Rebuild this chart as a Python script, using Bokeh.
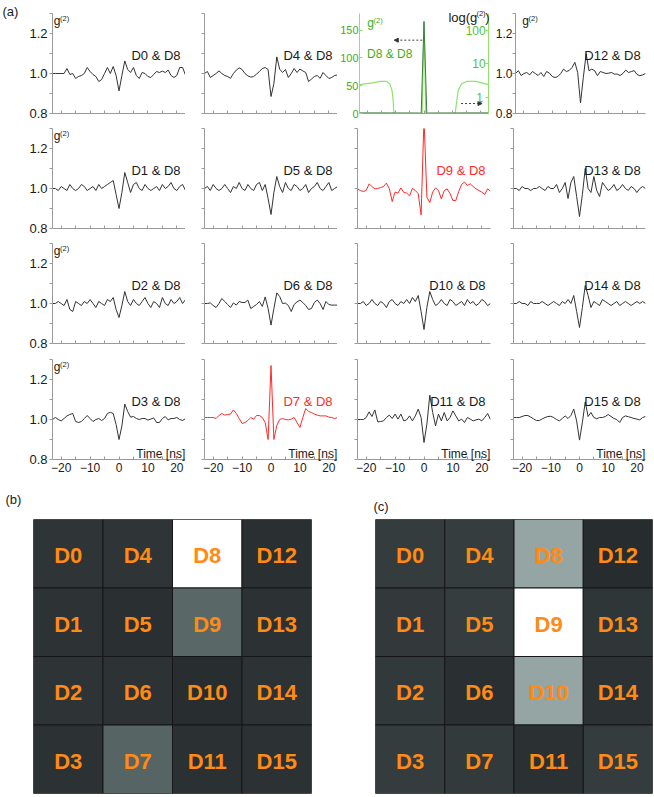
from bokeh.plotting import figure
from bokeh.layouts import column, row
from bokeh.models import (Range1d, LogAxis, LogScale, LogTicker, FixedTicker, Arrow,
                          NormalHead, CustomJSTickFormatter, NumeralTickFormatter)
from bokeh.core.properties import value
from bokeh.embed import file_html
from bokeh.resources import INLINE

FONT = "Liberation Sans"

# ---------------- data ----------------
time_ns = list(range(-23, 24))

D0 = [1.00, 1.00, 1.00, 1.00, 1.00, 1.025, 0.995, 1.00, 0.975, 0.985,
      0.99, 1.00, 1.03, 1.01, 0.995, 0.985, 0.96, 0.97, 1.00, 1.03,
      1.00, 1.035, 0.99, 0.913, 0.99, 1.063, 1.02, 1.005, 1.03, 0.99,
      0.975, 1.005, 1.00, 0.985, 0.98, 0.995, 1.01, 1.005, 1.012, 1.005,
      1.017, 0.99, 0.98, 0.99, 1.03, 1.03, 0.992]
D1 = [1.00, 1.00, 0.99, 1.01, 1.00, 0.99, 1.02, 1.00, 0.99, 1.00,
      1.02, 1.01, 0.99, 1.00, 1.01, 0.99, 1.02, 1.00, 1.01, 1.02,
      1.03, 1.04, 0.97, 0.90, 0.98, 1.08, 1.03, 0.98, 1.02, 1.03,
      1.00, 0.99, 1.02, 1.00, 0.99, 1.00, 1.01, 0.99, 1.02, 1.00,
      1.01, 1.03, 1.00, 0.99, 1.01, 1.02, 0.99]
D2 = [1.00, 1.00, 1.01, 1.00, 0.99, 1.02, 0.97, 0.96, 1.01, 1.00,
      0.99, 1.01, 1.00, 1.02, 1.00, 0.98, 1.01, 1.00, 0.99, 1.02,
      1.01, 1.03, 0.97, 0.93, 0.99, 1.06, 1.01, 0.99, 1.02, 1.00,
      0.99, 1.01, 1.03, 1.00, 0.98, 1.01, 1.00, 0.98, 1.03, 1.00,
      0.99, 1.02, 1.00, 1.01, 1.03, 1.00, 1.02]
D3 = [1.00, 1.01, 1.00, 0.993, 1.005, 1.018, 1.025, 1.03, 0.99, 0.985,
      0.99, 1.005, 1.02, 1.005, 0.99, 1.00, 1.005, 0.995, 1.005, 1.03,
      1.036, 1.03, 0.975, 0.90, 0.968, 1.077, 1.04, 1.012, 1.015, 1.005,
      1.00, 1.005, 1.005, 0.997, 1.002, 1.008, 0.985, 0.985, 1.005, 1.015,
      0.998, 1.005, 1.005, 1.01, 1.00, 0.995, 1.005]
D4 = [1.00, 1.01, 0.98, 0.99, 1.00, 1.013, 1.00, 0.99, 0.985, 0.976,
      1.00, 1.017, 1.028, 1.02, 1.00, 0.988, 0.982, 0.985, 0.997, 1.01,
      1.025, 1.03, 1.02, 0.885, 0.95, 1.083, 1.022, 1.005, 1.02, 0.98,
      1.00, 1.025, 1.005, 1.022, 1.013, 1.005, 0.96, 0.972, 0.985, 0.99,
      0.976, 1.005, 0.99, 0.975, 0.98, 0.99, 0.993]
D5 = [1.00, 1.01, 0.99, 1.02, 1.00, 0.99, 1.00, 1.02, 1.00, 0.98,
      1.01, 1.00, 1.03, 1.00, 0.99, 1.02, 1.00, 0.99, 1.02, 1.03,
      0.99, 1.02, 0.95, 0.87, 0.98, 1.06, 1.01, 0.98, 1.03, 1.00,
      0.99, 1.02, 1.01, 0.99, 1.00, 1.02, 0.98, 1.00, 1.01, 1.03,
      1.00, 0.99, 1.01, 1.03, 0.99, 1.00, 1.01]
D6 = [1.00, 1.00, 1.003, 0.99, 0.98, 1.00, 1.025, 1.01, 0.995, 0.98,
      1.003, 0.992, 1.01, 1.005, 1.005, 1.017, 0.975, 0.985, 0.995, 1.01,
      0.985, 1.033, 0.975, 0.892, 0.975, 1.053, 1.035, 1.00, 1.002, 0.99,
      0.96, 0.995, 1.008, 1.017, 1.005, 0.99, 0.97, 0.975, 1.005, 1.017,
      1.00, 0.97, 1.01, 0.995, 0.992, 0.992, 0.992]
D7 = [1.01, 1.01, 1.01, 1.01, 1.005, 1.02, 1.03, 1.022, 1.025, 1.027,
      1.048, 1.03, 1.005, 0.98, 0.985, 0.995, 1.01, 1.002, 1.02, 1.02,
      1.01, 0.985, 0.90, 1.27, 0.90, 0.97, 1.00, 1.005, 1.00, 0.998,
      1.002, 1.01, 0.985, 0.96, 1.01, 1.055, 1.04, 1.035, 1.027, 1.022,
      1.018, 1.018, 1.018, 1.012, 1.01, 1.005, 1.01]
D9 = [0.998, 0.99, 0.985, 0.99, 1.023, 1.01, 0.998, 1.00, 1.005, 1.01,
      1.027, 1.00, 0.935, 0.982, 0.977, 1.003, 0.98, 0.977, 0.963, 1.00,
      0.99, 0.975, 0.868, 1.35, 0.957, 0.93, 0.982, 1.003, 0.99, 0.948,
      0.99, 0.998, 0.975, 0.94, 0.94, 0.985, 1.02, 1.032, 1.015, 1.023,
      1.01, 0.998, 0.99, 0.982, 0.97, 0.998, 0.987]
D10 = [1.00, 1.00, 1.01, 0.99, 1.00, 1.02, 1.00, 0.99, 1.01, 1.00,
       0.98, 1.01, 1.02, 1.00, 0.99, 1.01, 1.00, 1.02, 1.00, 1.03,
       1.01, 1.04, 0.96, 0.87, 0.98, 1.06, 1.02, 0.99, 1.00, 1.02,
       1.00, 0.99, 1.02, 1.01, 0.99, 1.00, 1.01, 0.99, 1.02, 1.00,
       1.01, 0.99, 1.00, 1.02, 1.01, 0.99, 1.00]
D11 = [1.00, 1.00, 1.00, 1.01, 1.038, 1.015, 1.048, 0.988, 0.99, 0.993,
       1.01, 1.022, 1.005, 1.027, 1.002, 1.027, 0.993, 0.998, 1.018, 0.993,
       1.018, 1.052, 1.01, 0.885, 0.977, 1.122, 1.035, 0.968, 1.027, 0.993,
       1.035, 0.993, 1.01, 1.043, 1.018, 0.993, 1.002, 0.985, 1.01, 1.002,
       0.993, 0.998, 1.002, 0.993, 1.01, 1.03, 1.00]
D12 = [1.00, 1.014, 0.99, 1.00, 1.005, 0.993, 1.01, 1.00, 0.99, 1.005,
       0.985, 1.01, 1.002, 0.985, 0.98, 0.985, 1.00, 1.022, 1.01, 1.015,
       1.03, 1.056, 1.005, 0.853, 0.98, 1.098, 1.014, 1.022, 1.014, 0.989,
       1.01, 1.005, 1.00, 1.002, 1.005, 0.997, 0.997, 0.99, 1.00, 1.017,
       1.005, 1.01, 1.014, 0.995, 0.989, 0.993, 1.00]
D13 = [1.00, 1.00, 0.99, 1.01, 1.00, 1.00, 0.99, 1.00, 1.00, 1.01,
       1.00, 0.99, 1.01, 1.00, 1.00, 1.02, 0.98, 1.00, 1.03, 0.95,
       1.03, 1.06, 0.96, 0.86, 0.97, 1.10, 1.00, 0.98, 1.06, 0.99,
       0.96, 1.03, 1.01, 0.99, 1.00, 1.02, 0.99, 1.00, 1.02, 1.00,
       0.99, 1.01, 1.00, 0.98, 1.00, 1.01, 1.00]
D14 = [1.00, 1.00, 1.01, 1.00, 1.00, 0.99, 1.01, 1.00, 1.00, 1.00,
       1.01, 1.00, 0.99, 1.00, 1.01, 1.00, 0.99, 1.01, 1.00, 1.02,
       1.00, 1.04, 0.96, 0.88, 0.98, 1.09, 1.04, 0.98, 1.01, 1.00,
       0.99, 1.02, 1.01, 1.00, 0.99, 1.00, 1.01, 0.99, 1.00, 1.01,
       1.00, 0.99, 1.00, 1.01, 1.00, 1.01, 1.00]
D15 = [1.01, 1.01, 1.01, 1.015, 1.02, 1.02, 1.012, 1.003, 0.995, 0.995,
       1.003, 1.01, 1.015, 1.016, 1.01, 1.00, 0.993, 1.005, 1.018, 1.005,
       1.02, 1.052, 0.993, 0.897, 0.985, 1.088, 1.015, 1.035, 1.01, 1.004,
       1.01, 1.01, 1.015, 1.025, 1.015, 1.005, 1.00, 0.985, 1.01, 1.018,
       1.014, 1.01, 1.005, 1.002, 0.998, 1.01, 1.015]

# D8 & D8 auto-correlation: linear g2 (left axis) and log g2 (right axis)
auto_t = [-23, -12, -2, -1, 0, 1, 2, 12, 23]
auto_g2 = [1.1, 1.0, 0.9, 0.6, 166, 0.6, 0.9, 1.0, 1.1]
log_t = [-23, -19, -15.6, -13.4, -12.2, -11.4, -11.0, -10.75, -1, 0, 1,
         11.1, 11.7, 12.2, 13.4, 15.1, 18.5, 23]
log_g2 = [2.36, 2.63, 2.96, 2.96, 2.52, 1.59, 0.79, 0.32, 0.01, 166, 0.01,
          0.32, 0.79, 1.59, 2.52, 2.96, 2.96, 2.36]

traces = {0: D0, 1: D1, 2: D2, 3: D3, 4: D4, 5: D5, 6: D6, 7: D7,
          9: D9, 10: D10, 11: D11, 12: D12, 13: D13, 14: D14, 15: D15}
red_pairs = [7, 9]

det_names = ["D%d" % n for n in range(16)]
heat_b = ["#2f3537", "#2d3335", "#2e3436", "#2c3234",
          "#2f3537", "#2a3032", "#2d3335", "#566463",
          "#ffffff", "#5a6767", "#282d2f", "#2b3133",
          "#2a2f31", "#2c3234", "#2d3335", "#2c3234"]
heat_c = ["#343c3e", "#33393b", "#32393b", "#343c3e",
          "#353d3f", "#353d3f", "#2a2f31", "#333a3c",
          "#95a5a3", "#ffffff", "#95a5a3", "#2b3133",
          "#272c2e", "#2f3638", "#2c3234", "#343c3e"]
cell_x = [n // 4 + 0.5 for n in range(16)]
cell_y = [3.5 - n % 4 for n in range(16)]

# ---------------- style ----------------
AX = "#9a9a9a"
TXT = "#1a1a1a"
RED = "#ff2a2a"
GREEN_TXT = "#3aad2c"
LIGHT_GREEN = "#8fe26c"
DARK_GREEN = "#3d7f3d"
ORANGE = "#ff8a14"

col_left = [52, 19, 20, 21]
col_frame = [133, 133, 133, 132]
col_right = [0, 0, 2, 9]
row_top = [13, 5, 5, 6]
row_bottom = [10, 10, 10, 20]

EMPTY = "return '';"


def lab(p, x, y, text, size="13px", color=TXT, align="left", baseline="alphabetic", **kw):
    p.text(x=[x], y=[y], text=[text], text_font=value(FONT), text_font_size=value(size),
           text_color=color, text_align=align, text_baseline=baseline, level="overlay", **kw)


def hide_labels(axis):
    axis.formatter = CustomJSTickFormatter(code=EMPTY)
    axis.major_label_standoff = 0


def base_fig(r, c, y_range):
    p = figure(width=col_left[c] + col_frame[c] + col_right[c],
               height=row_top[r] + 100 + row_bottom[r],
               x_range=Range1d(-23, 23), y_range=y_range, title=None,
               output_backend="svg", toolbar_location=None,
               min_border_left=col_left[c], min_border_right=col_right[c],
               min_border_top=row_top[r], min_border_bottom=row_bottom[r])
    p.outline_line_color = None
    p.xgrid.visible = False
    p.ygrid.visible = False
    xa = p.xaxis[0]
    xa.ticker = FixedTicker(ticks=[-20, -10, 0, 10, 20], minor_ticks=[-15, -5, 5, 15])
    xa.axis_line_color = AX
    xa.major_tick_line_color = AX
    xa.minor_tick_line_color = AX
    xa.major_tick_in = 3
    xa.major_tick_out = 0
    xa.minor_tick_in = 3
    xa.minor_tick_out = 0
    xa.major_label_text_font = FONT
    xa.major_label_text_font_size = "12px"
    xa.major_label_text_color = TXT
    if r == 3:
        xa.formatter = CustomJSTickFormatter(code="return tick < 0 ? '\u2212' + (-tick) : '' + tick;")
        xa.major_label_standoff = 3
    else:
        hide_labels(xa)
    return p


def g2_label(p, x0, color=TXT, y_base=1.262, y_sup=1.2775, step=2.2):
    lab(p, x0, y_base, "g", size="12px", color=color)
    lab(p, x0 + step, y_sup, "(2)", size="7.5px", color=color)


def trace_panel(r, c):
    n = 4 * c + r
    p = base_fig(r, c, Range1d(0.8, 1.3))
    ya = p.yaxis[0]
    ya.ticker = FixedTicker(ticks=[0.8, 1.0, 1.2], minor_ticks=[0.9, 1.1, 1.3])
    ya.axis_line_color = AX
    ya.major_tick_line_color = AX
    ya.minor_tick_line_color = AX
    ya.major_tick_out = 3
    ya.major_tick_in = 0
    ya.minor_tick_out = 3
    ya.minor_tick_in = 0
    ya.major_label_text_font = FONT
    ya.major_label_text_color = TXT
    if c == 0:
        ya.formatter = NumeralTickFormatter(format="0.0")
        ya.major_label_text_font_size = "13px"
        ya.major_label_standoff = 2
    elif c == 3 and r == 0:
        ya.formatter = NumeralTickFormatter(format="0.0")
        ya.major_label_text_font_size = "12px"
        ya.major_label_standoff = 0
    else:
        ya.major_label_text_font_size = "11px"
        hide_labels(ya)
    red = n in red_pairs
    color = RED if red else "#333333"
    p.line(time_ns, traces[n], line_color=color, line_width=1, line_join="round")
    lab(p, 21.3, 1.09, "D%d & D8" % n, color=RED if red else TXT, align="right")
    if c == 0:
        g2_label(p, -22.6)
    if c == 3 and r == 0:
        g2_label(p, -20.6)
    if r == 3:
        lab(p, 22.9, 0.826, "Time [ns]", size="12px", align="right")
    if r == 0 and c == 0:
        lab(p, -40.3, 1.35, "(a)", size="13px", baseline="top")
    return p


def auto_panel():
    p = base_fig(0, 2, Range1d(0, 180))
    ya = p.yaxis[0]
    ya.ticker = FixedTicker(ticks=[0, 50, 100, 150])
    ya.axis_line_color = LIGHT_GREEN
    ya.major_tick_line_color = LIGHT_GREEN
    ya.minor_tick_line_color = None
    ya.major_tick_in = 3
    ya.major_tick_out = 0
    ya.formatter = NumeralTickFormatter(format="0")
    ya.major_label_text_font = FONT
    ya.major_label_text_font_size = "11px"
    ya.major_label_text_color = GREEN_TXT
    ya.major_label_standoff = 1
    p.extra_y_ranges = {"log": Range1d(0.32, 330)}
    p.extra_y_scales = {"log": LogScale()}
    ra = LogAxis(y_range_name="log", ticker=LogTicker())
    ra.axis_line_color = LIGHT_GREEN
    ra.major_tick_line_color = LIGHT_GREEN
    ra.minor_tick_line_color = None
    ra.major_tick_in = 3
    ra.major_tick_out = 0
    ra.major_label_text_font_size = "11px"
    hide_labels(ra)
    p.add_layout(ra, "right")

    p.line(log_t, log_g2, y_range_name="log", line_color=LIGHT_GREEN, line_width=1.2)
    p.line(auto_t, auto_g2, line_color=DARK_GREEN, line_width=1)

    for v, txt, xr in [(100, "100", 22.0), (10, "10", 22.0), (1, "1", 21.0)]:
        lab(p, xr, v, txt, size="12px", color="#55c233", align="right", baseline="middle",
            y_range_name="log")
    lab(p, -20.2, 163, "g", size="12px", color=GREEN_TXT)
    lab(p, -18.0, 167.5, "(2)", size="7.5px", color=GREEN_TXT)
    lab(p, -20.3, 107.7, "D8 & D8", size="12px", color=GREEN_TXT)
    lab(p, 19.0, 173.7, "log(g", align="right")
    lab(p, 21.97, 180.5, "(2)", size="7.5px", align="right")
    lab(p, 23.35, 173.7, ")", align="right")
    p.add_layout(Arrow(end=NormalHead(size=4, fill_color="#333333", line_color="#333333"),
                       x_start=-0.6, y_start=132, x_end=-10.6, y_end=132,
                       line_color="#444444", line_width=1, line_dash="2 2"))
    p.add_layout(Arrow(end=NormalHead(size=4, fill_color="#333333", line_color="#333333"),
                       x_start=13.2, y_start=18, x_end=20.7, y_end=18,
                       line_color="#444444", line_width=1, line_dash="2 2"))
    return p


def heat_fig(colors, left, frame_w, right, top, frame_h, bottom, tag, tag_x, tag_y):
    p = figure(width=left + frame_w + right, height=top + frame_h + bottom,
               x_range=Range1d(0, 4), y_range=Range1d(0, 4), title=None,
               x_axis_location=None, y_axis_location=None,
               output_backend="svg", toolbar_location=None,
               min_border_left=left, min_border_right=right,
               min_border_top=top, min_border_bottom=bottom)
    p.xgrid.visible = False
    p.ygrid.visible = False
    p.outline_line_color = "#8c8c8c"
    p.rect(x=cell_x, y=cell_y, width=1, height=1, fill_color=colors,
           line_color="#161616", line_width=1)
    p.text(x=cell_x, y=cell_y, text=det_names, text_font=value(FONT),
           text_font_style="bold", text_font_size=value("22px"), text_color=ORANGE,
           text_align="center", text_baseline="middle", y_offset=2)
    lab(p, tag_x, tag_y, tag, size="13px", baseline="top")
    return p


rows = []
for r in range(4):
    figs = []
    for c in range(4):
        if r == 0 and c == 2:
            figs.append(auto_panel())
        else:
            figs.append(trace_panel(r, c))
    rows.append(row(*figs))

fb = heat_fig(heat_b, 33, 278, 31, 39, 275, 4, "(b)", -0.403, 4.407)
fc = heat_fig(heat_c, 33, 277, 2, 40, 276, 2, "(c)", -0.029, 4.304)
rows.append(row(fb, fc))

layout = column(*rows)

with open("out.html", "w", encoding="utf-8") as f:
    f.write(file_html(layout, INLINE))
